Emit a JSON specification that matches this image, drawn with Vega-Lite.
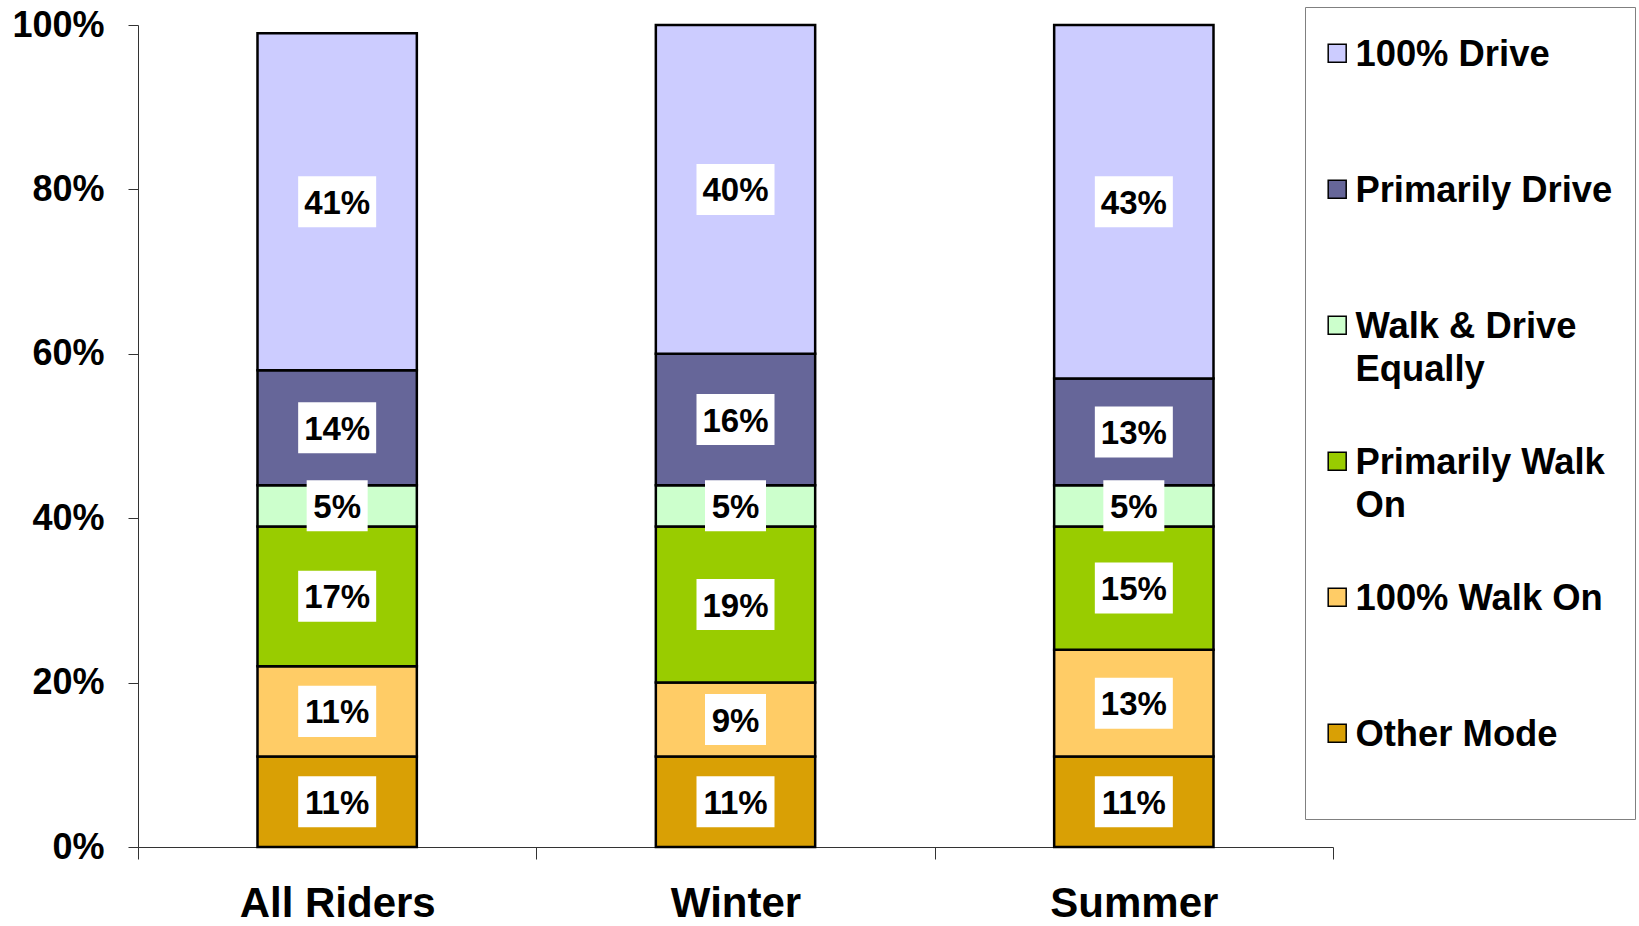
{
  "$schema": "https://vega.github.io/schema/vega-lite/v6.json",
  "autosize": "none",
  "width": 1195,
  "height": 822,
  "padding": {"left": 138, "top": 25, "right": 306, "bottom": 79},
  "background": "white",
  "config": {
    "font": "Liberation Sans",
    "view": {"stroke": null}
  },
  "data": {
    "values": [
      {"group": "All Riders", "mode": "Other Mode", "k": 1, "pct": 0.11},
      {"group": "All Riders", "mode": "100% Walk On", "k": 2, "pct": 0.11},
      {"group": "All Riders", "mode": "Primarily Walk On", "k": 3, "pct": 0.17},
      {"group": "All Riders", "mode": "Walk  & Drive Equally", "k": 4, "pct": 0.05},
      {"group": "All Riders", "mode": "Primarily Drive", "k": 5, "pct": 0.14},
      {"group": "All Riders", "mode": "100% Drive", "k": 6, "pct": 0.41},
      {"group": "Winter", "mode": "Other Mode", "k": 1, "pct": 0.11},
      {"group": "Winter", "mode": "100% Walk On", "k": 2, "pct": 0.09},
      {"group": "Winter", "mode": "Primarily Walk On", "k": 3, "pct": 0.19},
      {"group": "Winter", "mode": "Walk  & Drive Equally", "k": 4, "pct": 0.05},
      {"group": "Winter", "mode": "Primarily Drive", "k": 5, "pct": 0.16},
      {"group": "Winter", "mode": "100% Drive", "k": 6, "pct": 0.40},
      {"group": "Summer", "mode": "Other Mode", "k": 1, "pct": 0.11},
      {"group": "Summer", "mode": "100% Walk On", "k": 2, "pct": 0.13},
      {"group": "Summer", "mode": "Primarily Walk On", "k": 3, "pct": 0.15},
      {"group": "Summer", "mode": "Walk  & Drive Equally", "k": 4, "pct": 0.05},
      {"group": "Summer", "mode": "Primarily Drive", "k": 5, "pct": 0.13},
      {"group": "Summer", "mode": "100% Drive", "k": 6, "pct": 0.43}
    ]
  },
  "encoding": {
    "x": {
      "field": "group", "type": "nominal",
      "sort": ["All Riders", "Winter", "Summer"],
      "scale": {"paddingInner": 0, "paddingOuter": 0},
      "axis": {
        "title": null, "labelAngle": 0, "labelFontSize": 42, "labelFontWeight": "bold",
        "labelColor": "black", "labelPadding": 24, "labelLimit": 600, "tickSize": 12, "tickBand": "extent",
        "tickColor": "#333", "domainColor": "#333", "tickWidth": 1, "domainWidth": 1
      }
    },
    "y": {
      "field": "pct", "type": "quantitative", "stack": "zero",
      "scale": {"domain": [0, 1], "nice": false},
      "axis": {
        "title": null, "values": [0, 0.2, 0.4, 0.6, 0.8, 1], "format": ".0%",
        "labelFontSize": 36, "labelFontWeight": "bold", "labelColor": "black",
        "labelPadding": 24, "tickSize": 10, "grid": false,
        "tickColor": "#333", "domainColor": "#333", "tickWidth": 1, "domainWidth": 1
      }
    },
    "order": {"field": "k", "type": "quantitative"},
    "detail": {"field": "mode"}
  },
  "layer": [
    {
      "mark": {"type": "bar", "stroke": "black", "strokeWidth": 2.5, "width": {"band": 0.4}},
      "encoding": {
        "color": {
          "field": "mode", "type": "nominal",
          "scale": {
            "domain": ["100% Drive", "Primarily Drive", "Walk  & Drive Equally", "Primarily Walk On", "100% Walk On", "Other Mode"],
            "range": ["#CCCCFF", "#666699", "#CCFFCC", "#99CC00", "#FFCC66", "#D9A005"]
          },
          "legend": {
            "title": " ",
            "titleFontSize": 2,
            "titlePadding": 4,
            "orient": "none",
            "legendX": 1167,
            "legendY": -18,
            "padding": 22,
            "strokeColor": "#808080",
            "fillColor": "white",
            "symbolType": "square",
            "symbolSize": 324,
            "symbolStrokeColor": "black",
            "symbolStrokeWidth": 1.5,
            "symbolOpacity": 1,
            "symbolOffset": -8,
            "labelFontSize": 36.4,
            "labelFontWeight": "bold",
            "labelColor": "black",
            "labelOffset": 0,
            "labelLimit": 600,
            "labelBaseline": "alphabetic",
            "rowPadding": 54,
            "labelExpr": "datum.label == 'Walk  & Drive Equally' ? ['Walk  & Drive', 'Equally'] : datum.label == 'Primarily Walk On' ? ['Primarily Walk', 'On'] : [datum.label, '']",
            "encode": {
              "labels": {"update": {"lineHeight": {"value": 43}, "dy": {"value": 13}}}
            }
          }
        }
      }
    },
    {
      "mark": {"type": "point", "filled": true, "fill": "white", "opacity": 1, "strokeWidth": 0},
      "encoding": {
        "y": {"field": "pct", "type": "quantitative", "stack": "zero", "bandPosition": 0.5},
        "shape": {"condition": {"test": "datum.pct < 0.1", "value": "M-1,-0.836H1V0.836H-1Z"}, "value": "M-1,-0.654H1V0.654H-1Z"},
        "size": {"condition": {"test": "datum.pct < 0.1", "value": 3721}, "value": 6084}
      }
    },
    {
      "mark": {"type": "text", "font": "Liberation Sans",
               "fontSize": 33, "fontWeight": "bold", "color": "black", "baseline": "middle", "dy": 2},
      "encoding": {
        "y": {"field": "pct", "type": "quantitative", "stack": "zero", "bandPosition": 0.5},
        "text": {"field": "pct", "type": "quantitative", "format": ".0%"}
      }
    }
  ]
}
